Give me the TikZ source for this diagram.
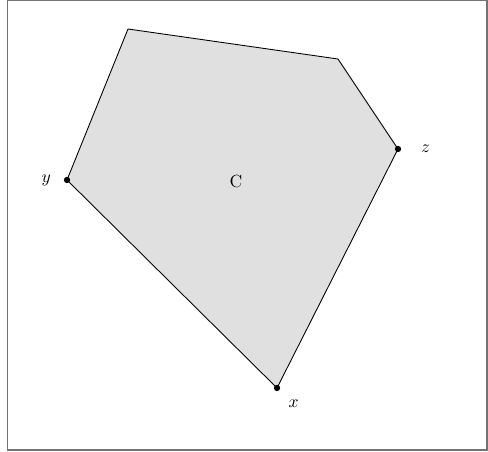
\documentclass[tikz,border=0pt]{standalone}
\usepackage{amsmath}
\usepackage{tikz}
\usetikzlibrary{positioning,calc}

\begin{document}
\begin{tikzpicture}[
    x=0.02cm, y=-0.02cm,
    region/.style={draw, line width=0.5pt, fill=black!12},
    pt/.style={circle, fill=black, inner sep=0pt, minimum size=3.6pt},
    lbl/.style={inner sep=1pt, font=\normalsize}
]
    \useasboundingbox (0,0) rectangle (488,452);
    % frame
    \draw[black!55, line width=1pt] (7.5,0) rectangle (487,450);

    % corners of the set
    \coordinate (a) at (128,29);
    \coordinate (b) at (338,59);
    \coordinate (z) at (398,149);
    \coordinate (x) at (277,388);
    \coordinate (y) at (67,180);

    \draw[region] (a) -- (b) -- (z) -- (x) -- (y) -- cycle;

    \node[lbl] (C) at (236,182) {C};

    % marked points
    \node[pt] (px) at (x) {};
    \node[pt] (py) at (y) {};
    \node[pt] (pz) at (z) {};
    \node[lbl, left=6pt of py] {$y$};
    \node[lbl, right=10pt of pz] {$z$};
    \node[lbl, below right=4pt and 4pt of px] {$x$};
\end{tikzpicture}
\end{document}
